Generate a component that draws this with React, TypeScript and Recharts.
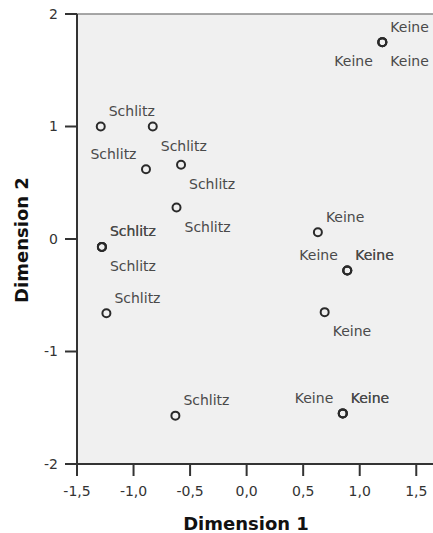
import React from 'react';
import {
  ScatterChart,
  Scatter,
  XAxis,
  YAxis,
  CartesianGrid,
  ReferenceLine,
  Label,
} from 'recharts';

// Object points (category labels) in the joint plot
const objectLabels = [
  'Schlitz', 'Schlitz', 'Schlitz', 'Schlitz', 'Schlitz',
  'Schlitz', 'Schlitz', 'Schlitz', 'Schlitz', 'Schlitz',
  'Keine', 'Keine', 'Keine', 'Keine', 'Keine', 'Keine',
  'Keine', 'Keine', 'Keine', 'Keine', 'Keine',
];
const dimension1 = [
  -1.29, -0.83, -0.89, -0.58, -0.62,
  -1.28, -1.28, -1.28, -1.24, -0.63,
  1.2, 1.2, 1.2, 0.63, 0.89, 0.89,
  0.89, 0.69, 0.85, 0.85, 0.85,
];
const dimension2 = [
  1.0, 1.0, 0.62, 0.66, 0.28,
  -0.07, -0.07, -0.07, -0.66, -1.57,
  1.75, 1.75, 1.75, 0.06, -0.28, -0.28,
  -0.28, -0.65, -1.55, -1.55, -1.55,
];
// label side for each point (ur = upper right, lr = lower right, ul, ll)
const labelSide = [
  'ur', 'lr', 'ul', 'lr', 'lr',
  'ur', 'ur', 'lr', 'ur', 'ur',
  'ur', 'll', 'lr', 'ur', 'ul', 'ur',
  'ur', 'lr', 'ul', 'ur', 'ur',
];

const xTicks = [-1.5, -1.0, -0.5, 0.0, 0.5, 1.0, 1.5];
const yTicks = [-2, -1, 0, 1, 2];

const data = objectLabels.map((label, i) => ({
  x: dimension1[i],
  y: dimension2[i],
  label,
  side: labelSide[i],
}));

const FONT = '"DejaVu Sans", sans-serif';

const PointShape = (props: any) => {
  const { cx, cy, payload } = props;
  if (cx == null || cy == null) return null;
  const side: string = payload.side;
  const right = side === 'ur' || side === 'lr';
  const upper = side === 'ur' || side === 'ul';
  const tx = right ? cx + 8 : cx - 9.5;
  const ty = upper ? cy - 10.5 : cy + 24;
  return (
    <g>
      <circle cx={cx} cy={cy} r={4} fill="none" stroke="#2a2a2a" strokeWidth={2} />
      <text
        x={tx}
        y={ty}
        textAnchor={right ? 'start' : 'end'}
        fontFamily={FONT}
        fontSize={14}
        fill="#4a4a4a"
      >
        {payload.label}
      </text>
    </g>
  );
};

const fmtX = (v: number) => v.toFixed(1).replace('.', ',');

const XTitle = (props: any) => {
  const vb = props.viewBox || {};
  return (
    <text
      x={vb.x + vb.width / 2 - 9}
      y={vb.y + vb.height - 3.5}
      textAnchor="middle"
      fontFamily={FONT}
      fontWeight="bold"
      fontSize={18}
      fill="#111"
    >
      Dimension 1
    </text>
  );
};

const YTitle = (props: any) => {
  const vb = props.viewBox || {};
  const x = 28;
  const y = vb.y + vb.height / 2 + 1;
  return (
    <text
      x={x}
      y={y}
      transform={`rotate(-90, ${x}, ${y})`}
      textAnchor="middle"
      fontFamily={FONT}
      fontWeight="bold"
      fontSize={18}
      fill="#111"
    >
      Dimension 2
    </text>
  );
};

export default function App() {
  return (
    <div style={{ position: 'absolute', left: 0, top: 0, width: 433, height: 533 }}>
      <ScatterChart
        width={433}
        height={533}
        margin={{ top: 14, right: 0, bottom: 0, left: 0 }}
      >
        <CartesianGrid horizontal={false} vertical={false} fill="#f0f0f0" stroke="none" />
        <ReferenceLine y={2} stroke="#8a8a8a" strokeWidth={1.5} />
        <XAxis
          type="number"
          dataKey="x"
          domain={[-1.5, 1.648]}
          ticks={xTicks}
          allowDataOverflow
          height={69}
          tickFormatter={fmtX}
          tickSize={12}
          tickMargin={10}
          axisLine={{ stroke: '#333', strokeWidth: 2 }}
          tickLine={{ stroke: '#333', strokeWidth: 2 }}
          tick={{ fontFamily: FONT, fontSize: 14, fill: '#333' }}
        >
          <Label content={<XTitle />} />
        </XAxis>
        <YAxis
          type="number"
          dataKey="y"
          domain={[-2, 2]}
          ticks={yTicks}
          allowDataOverflow
          width={77}
          tickSize={12}
          tickMargin={7}
          axisLine={{ stroke: '#333', strokeWidth: 2 }}
          tickLine={{ stroke: '#333', strokeWidth: 2 }}
          tick={{ fontFamily: FONT, fontSize: 14, fill: '#333' }}
        >
          <Label content={<YTitle />} />
        </YAxis>
        <Scatter data={data} shape={<PointShape />} isAnimationActive={false} />
      </ScatterChart>
    </div>
  );
}
